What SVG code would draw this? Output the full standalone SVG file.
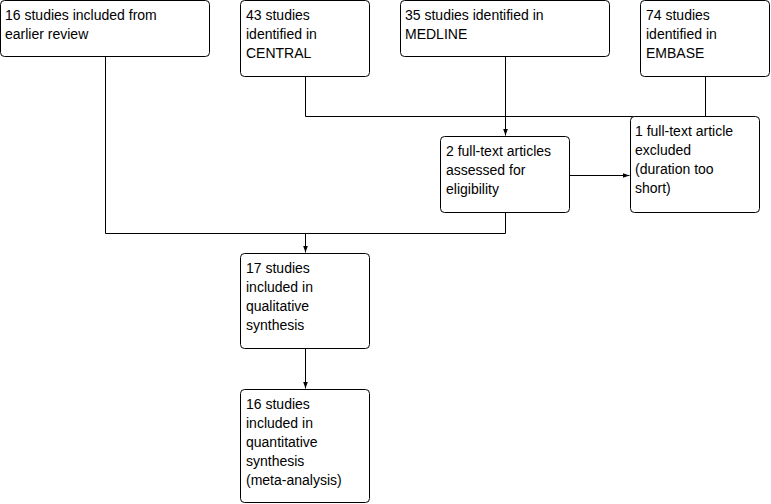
<svg xmlns="http://www.w3.org/2000/svg" width="771" height="504" viewBox="0 0 771 504">
<style>
.box{fill:#fff;stroke:#000;stroke-width:1}
.t{font-family:"Liberation Sans",Arial,sans-serif;font-size:14px;fill:#000}
.c{fill:none;stroke:#000;stroke-width:1}
</style>
<defs>
<marker id="ah" markerWidth="8" markerHeight="8" refX="7" refY="4" orient="auto" markerUnits="userSpaceOnUse">
<path d="M0,1.5 L7,4 L0,6.5 Z" fill="#000"/>
</marker>
</defs>
<rect width="771" height="504" fill="#fff"/>
<g id="connectors">
<path class="c" d="M105.5,56.5 V233.5 H505.5 V212.5"/>
<path class="c" d="M305.5,233.5 V252.5" marker-end="url(#ah)"/>
<path class="c" d="M305.5,76.5 V116.5 H705.5 V76.5"/>
<path class="c" d="M505.5,56.5 V135.5" marker-end="url(#ah)"/>
<path class="c" d="M569.5,175.5 H629.5" marker-end="url(#ah)"/>
<path class="c" d="M305.5,348.5 V388.5" marker-end="url(#ah)"/>
</g>
<g id="earlier">
<rect class="box" x="0.5" y="0.5" width="209" height="56" rx="4"/>
<text class="t" x="5" y="20">16 studies included from</text>
<text class="t" x="5" y="39">earlier review</text>
</g>
<g id="central">
<rect class="box" x="240.5" y="0.5" width="129" height="76" rx="4"/>
<text class="t" x="246" y="20">43 studies</text>
<text class="t" x="246" y="39">identified in</text>
<text class="t" x="246" y="58">CENTRAL</text>
</g>
<g id="medline">
<rect class="box" x="400.5" y="0.5" width="209" height="56" rx="4"/>
<text class="t" x="405" y="20">35 studies identified in</text>
<text class="t" x="405" y="39">MEDLINE</text>
</g>
<g id="embase">
<rect class="box" x="640.5" y="0.5" width="129" height="76" rx="4"/>
<text class="t" x="646" y="20">74 studies</text>
<text class="t" x="646" y="39">identified in</text>
<text class="t" x="646" y="58">EMBASE</text>
</g>
<g id="assessed">
<rect class="box" x="440.5" y="136.5" width="129" height="76" rx="4"/>
<text class="t" x="446" y="156">2 full-text articles</text>
<text class="t" x="446" y="175">assessed for</text>
<text class="t" x="446" y="194">eligibility</text>
</g>
<g id="excluded">
<rect class="box" x="630.5" y="116.5" width="129" height="96" rx="4"/>
<text class="t" x="635" y="136">1 full-text article</text>
<text class="t" x="635" y="155">excluded</text>
<text class="t" x="635" y="174">(duration too</text>
<text class="t" x="635" y="193">short)</text>
</g>
<g id="qualitative">
<rect class="box" x="240.5" y="253.5" width="129" height="95" rx="4"/>
<text class="t" x="246" y="273">17 studies</text>
<text class="t" x="246" y="292">included in</text>
<text class="t" x="246" y="311">qualitative</text>
<text class="t" x="246" y="330">synthesis</text>
</g>
<g id="quantitative">
<rect class="box" x="240.5" y="389.5" width="129" height="113" rx="4"/>
<text class="t" x="246" y="409">16 studies</text>
<text class="t" x="246" y="428">included in</text>
<text class="t" x="246" y="447">quantitative</text>
<text class="t" x="246" y="466">synthesis</text>
<text class="t" x="246" y="485">(meta-analysis)</text>
</g>
</svg>
